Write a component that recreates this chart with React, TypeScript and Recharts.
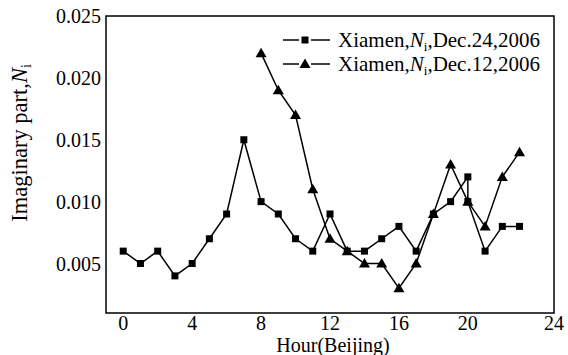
import React from 'react';
import { LineChart, Line, XAxis, YAxis, ReferenceArea, Legend } from 'recharts';

// Hour (Beijing) and imaginary part N_i
const dec24Hours = [0, 1, 2, 3, 4, 5, 6, 7, 8, 9, 10, 11, 12, 13, 14, 15, 16, 17, 18, 19, 20, 20, 21, 22, 23];
const dec24Values = [
  0.006, 0.005, 0.006, 0.004, 0.005, 0.007, 0.009, 0.015, 0.01, 0.009, 0.007, 0.006, 0.009,
  0.006, 0.006, 0.007, 0.008, 0.006, 0.009, 0.01, 0.012, 0.01, 0.006, 0.008, 0.008,
];
const dec12Hours = [8, 9, 10, 11, 12, 13, 14, 15, 16, 17, 18, 19, 20, 21, 22, 23];
const dec12Values = [
  0.022, 0.019, 0.017, 0.011, 0.007, 0.006, 0.005, 0.005, 0.003, 0.005, 0.009, 0.013, 0.01,
  0.008, 0.012, 0.014,
];
const seriesDates = ['Dec.24,2006', 'Dec.12,2006'];

const xTicks = [0, 4, 8, 12, 16, 20, 25];
const xTickLabels = ['0', '4', '8', '12', '16', '20', '24'];
const xMinorTicks = [0, 1, 2, 3, 4, 5, 6, 7, 8, 9, 10, 11, 12, 13, 14, 15, 16, 17, 18, 19, 20, 21, 22, 23, 24];
const yTicks = [0.005, 0.01, 0.015, 0.02, 0.025];
const yMinorTicks = [0.0025, 0.005, 0.0075, 0.01, 0.0125, 0.015, 0.0175, 0.02, 0.0225];

const dec24 = dec24Hours.map((h, i) => ({ h, v: dec24Values[i] }));
const dec12 = dec12Hours.map((h, i) => ({ h, v: dec12Values[i] }));

const FONT = 'Liberation Serif';
const X_DOMAIN = [-1, 25];
const Y_DOMAIN = [0.001, 0.025];

function SquareDot(props: any) {
  const { cx, cy } = props;
  if (cx == null || cy == null) return null;
  return <rect x={cx - 3.5} y={cy - 3.5} width={7} height={7} fill="#000" />;
}

function TriangleDot(props: any) {
  const { cx, cy } = props;
  if (cx == null || cy == null) return null;
  return <polygon points={`${cx},${cy - 5.5} ${cx + 5.5},${cy + 4} ${cx - 5.5},${cy + 4}`} fill="#000" />;
}

function LegendBox() {
  return (
    <svg width={290} height={60} style={{ display: 'block' }}>
      {seriesDates.map((d, i) => {
        const y = 14 + 24 * i;
        return (
          <g key={d}>
            <line x1={5} x2={21} y1={y} y2={y} stroke="#000" strokeWidth={1.5} />
            <line x1={33} x2={52} y1={y} y2={y} stroke="#000" strokeWidth={1.5} />
            {i === 0 ? (
              <rect x={23.5} y={y - 3.5} width={7} height={7} fill="#000" />
            ) : (
              <polygon points={`27,${y - 5.5} 32.5,${y + 4} 21.5,${y + 4}`} fill="#000" />
            )}
            <text x={60} y={y + 7} fontSize={21} fill="#000" fontFamily={FONT}>
              Xiamen,<tspan fontStyle="italic">N</tspan>
              <tspan fontSize={13} dy={4}>i</tspan>
              <tspan dy={-4}>,{d}</tspan>
            </text>
          </g>
        );
      })}
    </svg>
  );
}

export default function App() {
  return (
    <div style={{ position: 'absolute', left: 0, top: 0, background: '#fff', fontFamily: FONT }}>
      <LineChart
        width={568}
        height={355}
        margin={{ top: 16, right: 14, left: 0, bottom: 0 }}
        style={{ fontFamily: FONT }}
      >
        <XAxis
          xAxisId="x"
          type="number"
          dataKey="h"
          domain={X_DOMAIN}
          allowDataOverflow
          ticks={xTicks}
          interval={0}
          tickFormatter={(v: number) => xTickLabels[xTicks.indexOf(v)]}
          tickLine={false}
          axisLine={false}
          tickSize={3}
          tickMargin={0}
          height={42}
          tick={{ fill: '#000', fontSize: 20, fontFamily: FONT }}
          label={{
            content: (p: any) => {
              const vb = p.viewBox;
              return (
                <text
                  x={vb.x + vb.width / 2 + 3}
                  y={vb.y + 38.5}
                  textAnchor="middle"
                  fontSize={20}
                  fill="#000"
                  fontFamily={FONT}
                >
                  Hour(Beijing)
                </text>
              );
            },
          }}
        />
        <XAxis
          xAxisId="xm"
          type="number"
          mirror
          domain={X_DOMAIN}
          allowDataOverflow
          ticks={xMinorTicks}
          interval={0}
          tick={false}
          tickLine={{ stroke: '#000', strokeWidth: 1.2 }}
          tickSize={4}
          axisLine={false}
        />
        <YAxis
          yAxisId="y"
          type="number"
          domain={Y_DOMAIN}
          allowDataOverflow
          ticks={yTicks}
          interval={0}
          tickFormatter={(v: number) => v.toFixed(3)}
          tickLine={false}
          axisLine={false}
          tickSize={3}
          tickMargin={2}
          width={106}
          tick={{ fill: '#000', fontSize: 20, fontFamily: FONT }}
          label={{
            content: () => {
              const cx = 27;
              const cy = 143;
              return (
                <text
                  x={cx}
                  y={cy}
                  textAnchor="middle"
                  fontSize={22.5}
                  fill="#000"
                  fontFamily={FONT}
                  transform={`rotate(-90, ${cx}, ${cy})`}
                >
                  Imaginary part,<tspan fontStyle="italic">N</tspan>
                  <tspan fontSize={14} dy={4}>i</tspan>
                </text>
              );
            },
          }}
        />
        <YAxis
          yAxisId="ym"
          type="number"
          mirror
          domain={Y_DOMAIN}
          allowDataOverflow
          ticks={yMinorTicks}
          interval={0}
          tick={false}
          tickLine={{ stroke: '#000', strokeWidth: 1.2 }}
          tickSize={5}
          axisLine={false}
        />
        <YAxis
          yAxisId="yr"
          orientation="right"
          type="number"
          mirror
          domain={Y_DOMAIN}
          allowDataOverflow
          ticks={yMinorTicks}
          interval={0}
          tick={false}
          tickLine={{ stroke: '#000', strokeWidth: 1.2 }}
          tickSize={5}
          axisLine={false}
        />
        <ReferenceArea
          xAxisId="x"
          yAxisId="y"
          x1={X_DOMAIN[0]}
          x2={X_DOMAIN[1]}
          y1={Y_DOMAIN[0]}
          y2={Y_DOMAIN[1]}
          fill="none"
          fillOpacity={0}
          stroke="#000"
          strokeWidth={1.5}
          strokeOpacity={1}
        />
        <Line
          xAxisId="x"
          yAxisId="y"
          data={dec24}
          dataKey="v"
          type="linear"
          stroke="#000"
          strokeWidth={1.5}
          dot={<SquareDot />}
          activeDot={false}
          isAnimationActive={false}
        />
        <Line
          xAxisId="x"
          yAxisId="y"
          data={dec12}
          dataKey="v"
          type="linear"
          stroke="#000"
          strokeWidth={1.5}
          dot={<TriangleDot />}
          activeDot={false}
          isAnimationActive={false}
        />
        <Legend
          layout="vertical"
          align="center"
          verticalAlign="middle"
          content={<LegendBox />}
          wrapperStyle={{ left: 278, top: 26, width: 290, height: 60 }}
        />
      </LineChart>
    </div>
  );
}
